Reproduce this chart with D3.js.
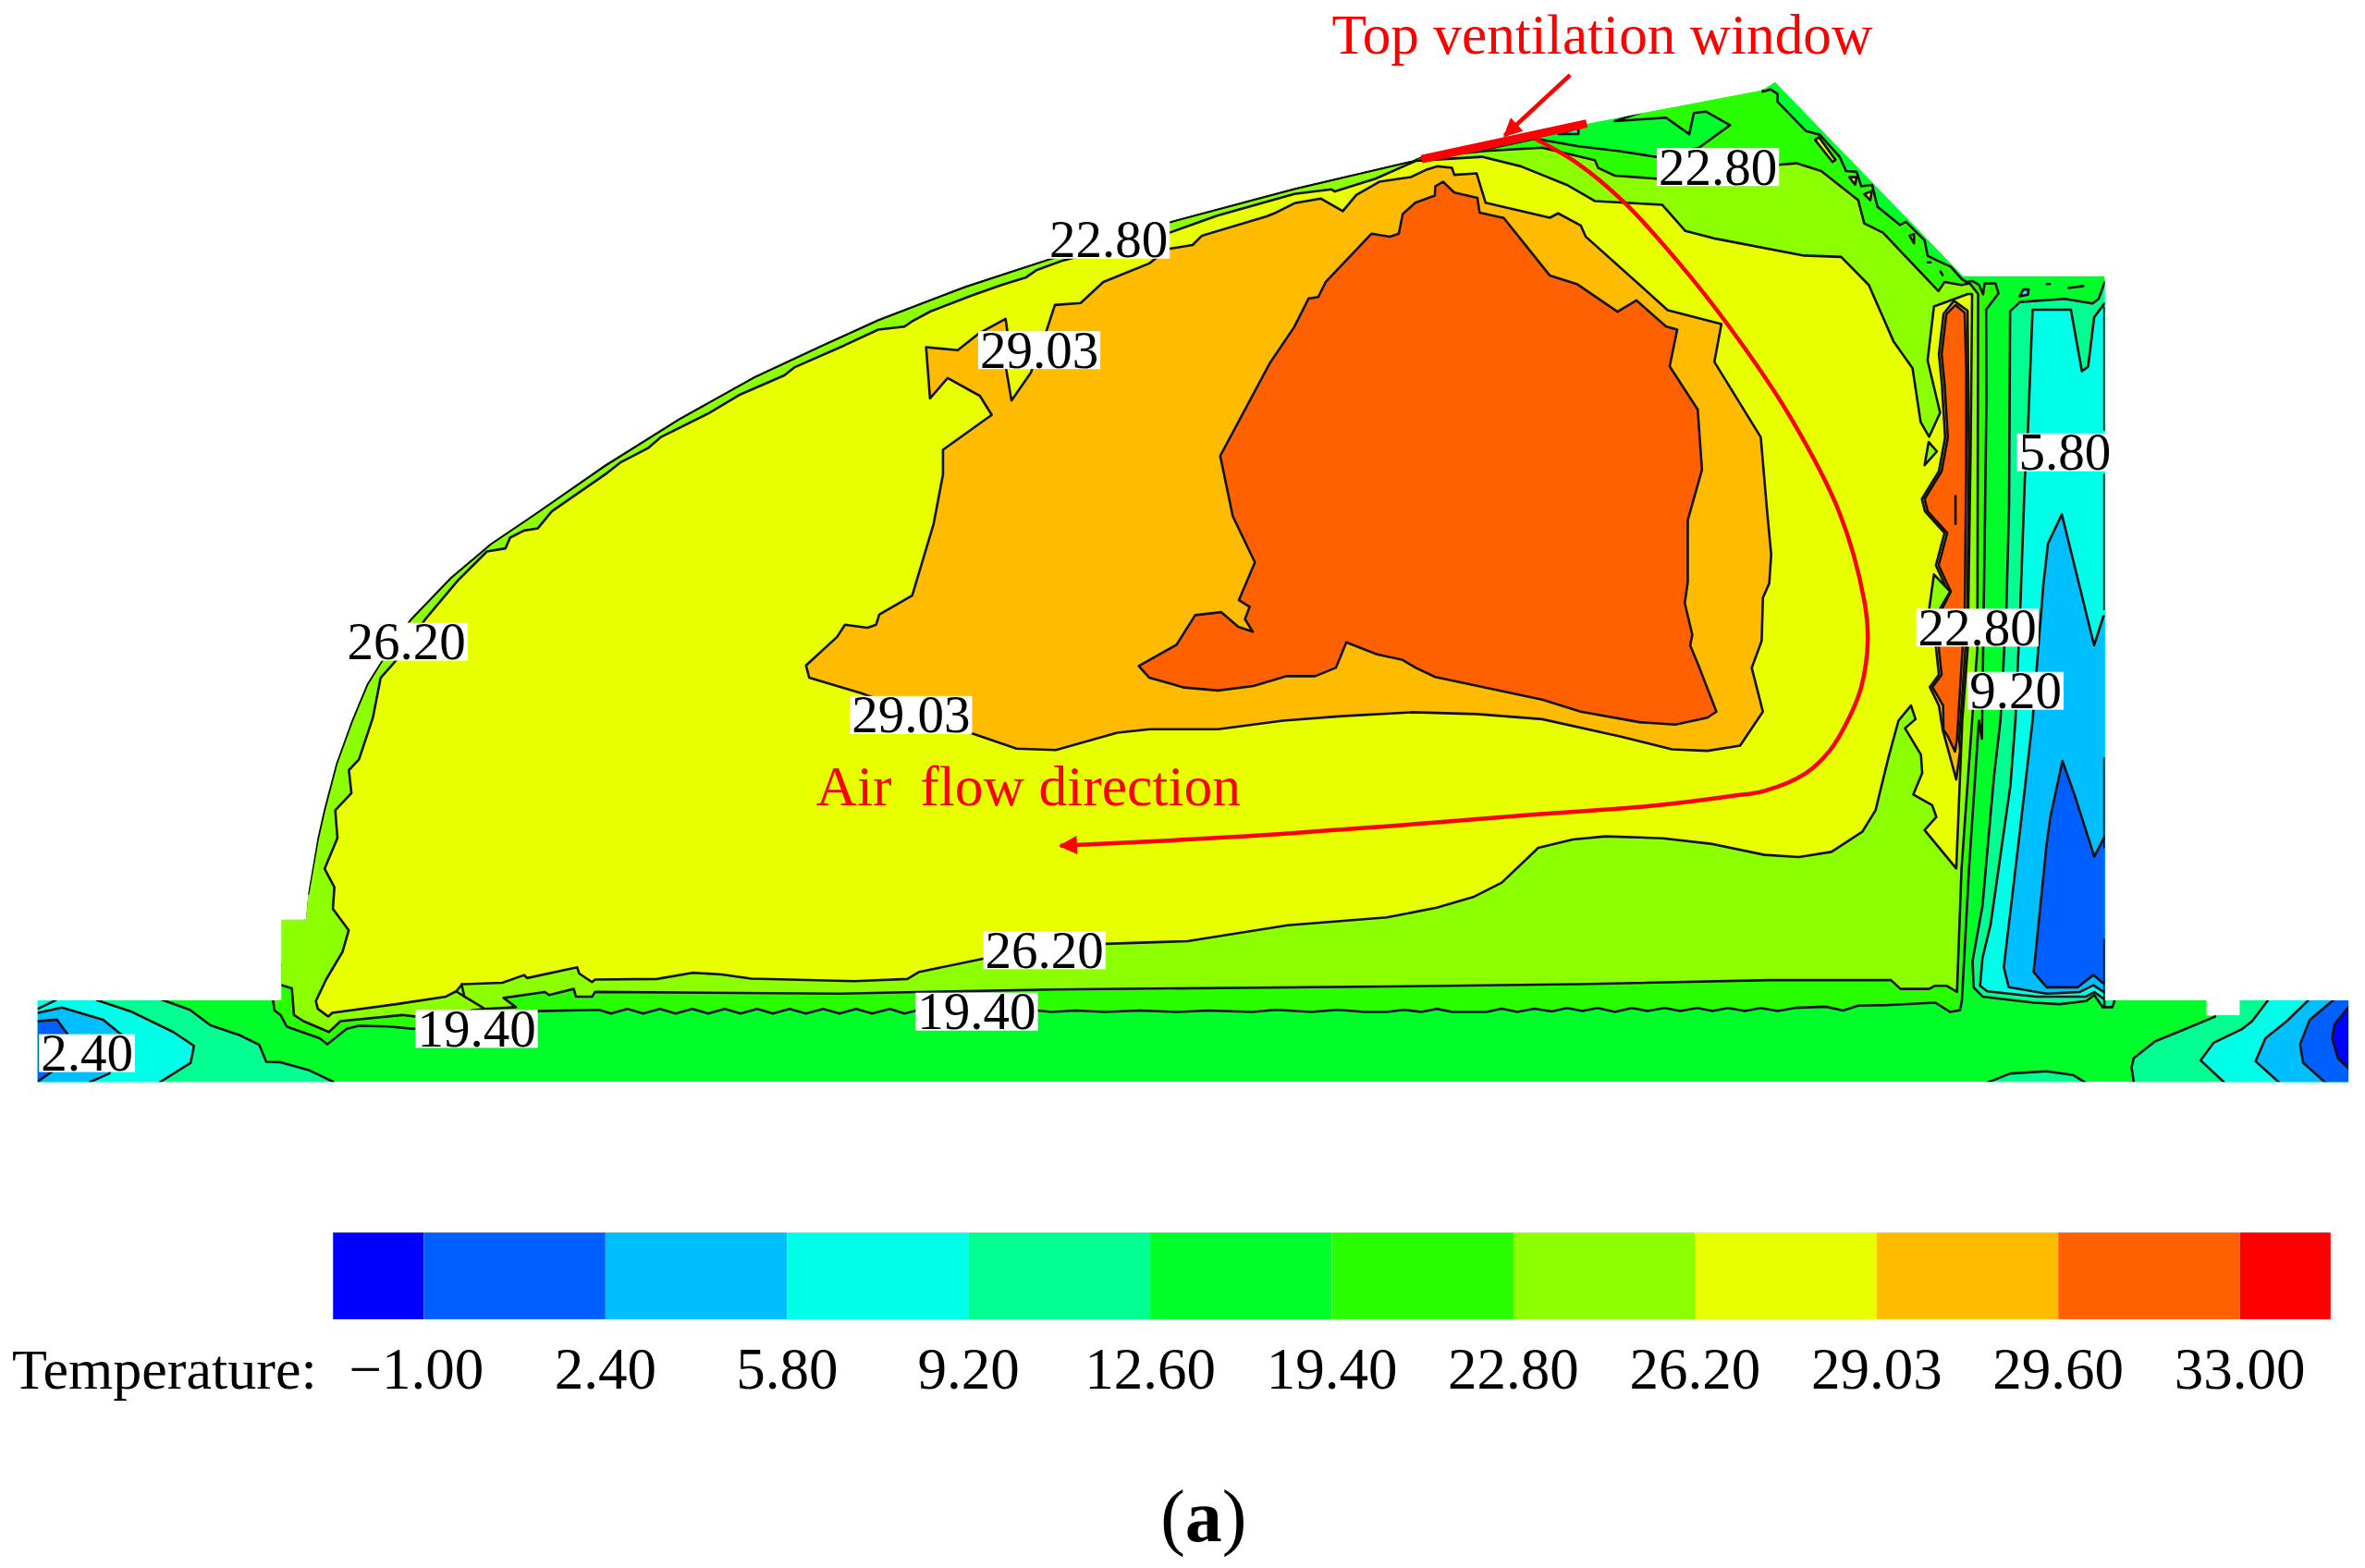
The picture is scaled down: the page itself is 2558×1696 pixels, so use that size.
<!DOCTYPE html>
<html><head><meta charset="utf-8">
<script src="https://cdn.jsdelivr.net/npm/d3@7"></script>
<style>html,body{margin:0;background:#fff}svg{display:block}text{font-family:"Liberation Serif","Times New Roman",serif}</style>
</head><body><svg id="c" width="2558" height="1696"></svg>
<script>
// Legend
const legendLabels=["\u22121.00","2.40","5.80","9.20","12.60","19.40","22.80","26.20","29.03","29.60","33.00"];
const bandColors=["#0000ff","#0060ff","#00bfff","#00ffe8","#00ff90","#00ff2a","#2aff00","#8cff00","#e8ff00","#ffbb00","#ff6000","#ff0000"];
// Outline of the section, in chart units
const domainOutline=[[25,663.5],[186.6,663.5],[186.6,610],[203,610],[204.3,592.6],[210.5,555.8],[214.6,537.4],[222.7,506.7],[233,478.1],[243.2,453.6],[253.4,437.3],[271.8,410.7],[298.3,383.1],[324.9,360.6],[353.5,341.2],[400.5,308.5],[450,277.5],[500,249.5],[545,228.5],[582.3,211.5],[640,189.5],[694.7,171.7],[774.4,147.1],[858.2,124.6],[936.8,106.2],[942,104],[1052,82],[1168,60],[1176.9,54.2],[1301.5,183],[1395.5,183],[1395.5,663.5],[1463,663.5],[1463,673.5],[1485,673.5],[1485,663.5],[1557,663.5],[1557,717.6],[25,717.6]];
// Contour bands
const band1940=[[181,663.4],[181,640],[195,640],[204,600],[215,560],[240,475],[290,400],[350,350],[402,318],[500,262],[582,225],[695,182],[775,157],[858,135],[938,108],[985,99],[1018,92],[1046.5,97],[1072.7,100.1],[1099,104.2],[1126.4,98],[1147,83],[1131,74],[1123,75],[1120,89],[1104.6,78],[1070.6,80.3],[1096,71.9],[1096,60],[1168,50],[1168.7,60.9],[1173.8,59.3],[1178.5,62.3],[1178.5,67.5],[1197.3,86.9],[1206.5,89.3],[1219.8,104.2],[1223.9,113.4],[1231,114],[1234,123.6],[1241.2,122.6],[1244.7,137],[1259.6,149.2],[1263.7,147.1],[1276,159.4],[1278,169.6],[1284.1,172.7],[1293.3,176.8],[1300.5,185],[1303.5,187],[1307.6,186.4],[1312.1,189],[1314.8,195.2],[1315.8,188],[1323,188],[1325,194.5],[1316.8,205.4],[1317,265.6],[1316,347],[1314,490],[1312,478],[1305.6,574],[1300.7,664],[1299.5,670],[1293,671.2],[1283,665],[1249.9,666.7],[1232,667],[1222,670.2],[1210.5,667.7],[1190,668.5],[1178.7,670.6],[1167.3,668.5],[1157,670.6],[1145.7,668.5],[1135.5,670.6],[1125.3,668.5],[1114,670.6],[1103.7,668.5],[1092.3,670.6],[1082,668.5],[1070.7,671.2],[1059.3,668.5],[1049,670.6],[1039,668.5],[1028.8,670.8],[1017.3,669],[1006,671.2],[995.7,669],[985.6,671.2],[962.7,671.2],[952.5,669.1],[942.4,671.2],[931,669.8],[919.5,671.2],[904.6,671.2],[887,669.8],[869.4,671.2],[846,669.8],[830.4,671.2],[801,670.2],[781.5,671.2],[756,670.2],[732.6,671.2],[713,670.2],[697.4,671.2],[687.6,670.2],[607.5,670.2],[599.7,672.2],[590,669.1],[578.2,672.2],[567.6,669.1],[556.7,672.2],[545.7,669.1],[534.4,672.2],[523.5,669.1],[512.5,672.2],[502,669.1],[491,672.2],[480.5,669.1],[469.5,672.2],[459,669.1],[448,672.2],[437.5,669.1],[426.5,672.2],[416,669.1],[405,672.2],[397.2,669.8],[357.3,670.6],[275,682.4],[257.2,680.8],[238,680.4],[229.9,682.4],[217,692.6],[212,688.6],[190.2,681],[186,673.2],[182,670.2]];
const band2280=[[186,653.2],[175,653],[175,600],[204.3,592.6],[210.8,555.8],[215,537.4],[223,506.7],[233.4,478.1],[243.6,453.6],[253.8,437.3],[272.2,411],[298.7,383.4],[325.3,360.9],[353.9,341.5],[401,309],[450,278.2],[500,250.2],[545,229.2],[582.6,212.2],[640,190.2],[694.9,172.2],[774.6,147.6],[858.4,125.2],[937,106.8],[940.5,104.5],[985.2,100.1],[1022.4,98],[1057.4,106.3],[1059.6,111.4],[1070.6,116.5],[1098,118.5],[1179,109.3],[1191,108.3],[1207.5,113.4],[1232,132.8],[1236,148.2],[1248.4,154.3],[1285.2,193.1],[1289.2,187],[1300.5,189],[1306,188],[1311.5,195],[1311,430],[1307.5,478],[1300.5,576],[1297.5,657.9],[1290.5,653.8],[1283,653.8],[1279,655.9],[1260,655.9],[1253.7,650.1],[1173.6,650.1],[1046.6,652.8],[919.5,654.3],[697.4,656.3],[556.7,659],[394.5,657.9],[392.7,661],[381.8,661],[380.4,655.9],[364,660],[361.3,658],[333.9,661.9],[342,668],[321.6,669.2],[276,674.3],[266.8,673.2],[225.8,677.3],[218.1,684.5],[201.2,677.3],[194.9,673.2],[193.5,655.5]];
const band2620=[[217.6,674.2],[210.7,669.1],[209.4,664],[216.2,649.7],[227.1,631.3],[231.2,617],[220.7,602.8],[221.7,588.5],[215.2,576.2],[223.7,555.8],[222.3,537.4],[233,526],[231.3,510.8],[238,503.7],[247.2,476.1],[252.4,449.5],[261.5,439.3],[282,410.7],[303.4,385.2],[322.8,365.8],[335.1,363.7],[338.2,356.6],[347.4,351.9],[356.6,350.4],[365.8,339.2],[402.5,313.7],[411.7,306.5],[430,297],[438,290],[470,274],[490,262],[520,249],[527,243.5],[560,229],[582.3,218.6],[599.7,216.6],[604.9,213],[617,206.5],[643.6,196.2],[664,189],[680.4,183.9],[687.5,179],[704.9,172.7],[775.4,154.3],[807,143],[858.2,128.6],[882.8,125.6],[885,127],[912,118.5],[939,106.6],[982.5,104],[1008.3,110.3],[1038.8,122.6],[1057.6,133.4],[1102,135.8],[1117.4,153.2],[1137.4,158.3],[1196,169.5],[1220.7,170.4],[1239,189],[1255.6,226.8],[1268,244.2],[1273.4,280],[1279,289.7],[1286.3,273.8],[1278,239],[1282.2,203.3],[1304.7,195],[1307.5,195],[1306.5,300],[1304.6,430],[1301,478],[1297,576],[1276,550.6],[1283.8,541.8],[1281,534],[1268.5,527],[1274.4,512.8],[1273.6,500.6],[1263,483],[1270,477],[1267,468],[1258.7,478],[1252,502.6],[1243.5,537.4],[1234.7,551.7],[1214.3,565],[1192.7,568.4],[1169.8,567],[1135.5,559.8],[1102.5,556],[1064.4,554.7],[1042.8,556.8],[1019.9,562.3],[995.7,585.4],[976.7,595],[952.5,602],[919.5,608.5],[853.8,613.7],[787.3,624.2],[732.6,626],[652.5,635.8],[609.5,644.6],[601.6,649.3],[566.5,650.8],[498,649.1],[478.5,646.3],[459,645.2],[435.5,649.3],[394.5,649.7],[392.5,651.4],[384,645.7],[382.7,641.6],[349.5,648.7],[347.5,646.7],[333,651.8],[306.5,652.8],[302.4,657.5],[295.6,661],[262.7,666],[220.3,671.8]];
const band2903=[[858.2,134.8],[875.8,131.7],[890.3,140],[899.2,129.3],[914.5,120.5],[935.6,117.4],[946.2,112.3],[953.2,110.3],[962.6,111.3],[964.2,116],[979,115],[984.9,134.4],[1027.6,144.4],[1033,141.5],[1048,149.5],[1051.3,156.9],[1105.7,205.7],[1141.3,215],[1136.6,240],[1167.4,290],[1171.4,337],[1174.3,367.8],[1173,387],[1168.8,396.4],[1168,425],[1161.4,443],[1168.8,472],[1153.7,494.5],[1132,498],[1108.5,497],[1074,488.4],[1022.5,477],[979.5,473.6],[936.5,472.4],[889.2,475],[850.5,478],[807.5,483.7],[762.3,483.7],[740.8,486],[700,497.5],[674,496.5],[644,486.3],[571,459.8],[536.5,449.5],[534.4,441.4],[555,422.4],[560.2,414.4],[575.2,416.4],[580.8,414.4],[583,407.6],[604.8,395],[619,347.4],[625.2,314.7],[625.2,298.3],[657.5,275.2],[649.7,262.6],[628.3,250.7],[616.6,264.2],[614,230.3],[635,232.3],[648.7,221.3],[666.7,211.5],[668,220.7],[667,244.2],[670.6,265.6],[683.4,247.3],[693.7,219.7],[699.4,202.3],[716.5,201],[731.5,187],[762,174.7],[767.2,170.6],[775.4,165],[790.7,162.5],[796.9,156.3],[839.8,143.5],[846,141]];
const band2960=[[858,217],[867.6,198],[874,197],[879,187],[909.3,155],[921.5,157],[927.4,155],[930,142],[938.4,134.4],[951.3,129.7],[951.6,123.6],[956.7,120.5],[964.2,127.7],[979.5,131.2],[981,141],[997,144.6],[1027.6,182.8],[1045.9,188.6],[1072.4,206.7],[1085,199.2],[1104.5,216.5],[1112,218.6],[1107,243],[1125.6,271.7],[1128.4,311.6],[1119,345],[1119,386],[1117,400],[1122,421],[1120.6,428],[1126,441],[1131,454],[1138,472],[1132,476],[1110.7,480.6],[1087,479],[1048,472],[1022.5,464],[951.6,449],[938.7,443],[930,437.7],[913,434],[892.6,426],[885.8,442.8],[872,448.5],[852.6,448.5],[831,455],[807.5,458],[785,456],[762,449.5],[755,441.8],[780,427.7],[792.4,408],[809.6,406],[821,415.8],[830.6,419],[825.4,410.7],[828.5,402.5],[821.4,398],[832,373],[817.3,342.3],[809,302.4],[841.8,241]];
const stripOrange=[[1295.5,199.5],[1304.5,206],[1305.4,300],[1304.4,409],[1302.4,440],[1299,490],[1299.5,498],[1297,517],[1288,484],[1285.5,468],[1279.5,455.7],[1285.5,447.5],[1283.5,429],[1284,405],[1291.5,392.3],[1283.5,375],[1289.2,353.5],[1276.3,339.2],[1274.2,331],[1285.5,312.6],[1289.6,290.2],[1287.5,255.4],[1285.5,235],[1288.6,208]];
const stripHot=[[1296.5,202.3],[1302.6,207.4],[1303.6,245.2],[1303.6,306.5],[1302.6,408.7],[1300.6,439.3],[1297.5,490.4],[1296.2,498.5],[1291.4,488.3],[1288.5,484],[1288.3,467.9],[1281.2,455.7],[1287.3,447.5],[1285.3,429],[1285.5,408],[1293.4,392.3],[1285.3,375],[1291,353.5],[1278.1,339.2],[1276,331],[1287.3,312.6],[1291.4,290.2],[1289.3,255.4],[1287.3,235],[1290.4,208.4]];
const stripColdGreen=[[1332.7,206.4],[1339.3,200.3],[1369,198.2],[1387.3,201.3],[1391.4,198.2],[1395.5,187],[1402,187],[1402,663.6],[1400.5,668],[1394,668],[1388.5,660],[1383,664],[1365.6,666],[1348.2,665],[1314.4,661],[1308.5,654.8],[1307.8,637.5],[1314.4,600.7],[1322,515],[1326.3,478],[1330.2,404.6],[1332,336]];
const stripCyan=[[1347.6,205.4],[1373,205.4],[1380.3,246.2],[1384.4,243.2],[1388.4,210.5],[1395.2,201.3],[1402,201],[1402,663],[1394,662],[1388.5,658],[1383,661],[1350.3,661],[1317.6,657.5],[1312.8,653.8],[1314.4,635.4],[1319.8,613],[1332.9,521],[1336.2,478],[1339.4,404.6],[1342.5,316.7],[1344.5,286]];
const stripSky=[[1367,341.2],[1357.8,360.6],[1354.7,388.2],[1347.6,478],[1339.4,549.6],[1328.5,641.6],[1331.8,654.8],[1356.9,659],[1378.7,658],[1387.9,653.4],[1395,658],[1402,658],[1402,408],[1394.6,408.7],[1388.4,428]];
const stripBlue=[[1367.4,504.7],[1359.5,541.4],[1356.9,559.8],[1349.3,635.4],[1348.2,644.6],[1356.9,654.8],[1377.6,654.8],[1387.9,646.7],[1394,651.8],[1402,651],[1402,550],[1395,555.7],[1388.5,568],[1375.4,527.1]];
const rightGreen=[[1468,650],[1468.6,674.3],[1444,684.5],[1428.9,690.6],[1414.7,701.8],[1413.2,708],[1415.8,725],[1570,725],[1570,650]];
const rightCyan=[[1503.5,655],[1503.5,663.6],[1493.2,677.3],[1486.7,682.4],[1467.7,691.6],[1459,703.3],[1474.3,717.6],[1480,725],[1570,725],[1570,655]];
const rightSky=[[1530.3,655],[1530.3,663.6],[1516.1,677.3],[1502,688.6],[1495.4,703.9],[1510.7,717.6],[1516,725],[1570,725],[1570,655]];
const rightBlue=[[1546.7,655],[1546.7,663.6],[1531.4,676.3],[1524.9,692.7],[1527,704.9],[1541.2,717.6],[1547,725],[1570,725],[1570,655]];
const rightDeep=[[1565,660],[1556.9,668.1],[1547.8,679.4],[1546.2,688.6],[1550,701.8],[1557,708.6],[1565,715]];
const floorBump=[[1317.6,718],[1332.9,712],[1356.9,710.6],[1374.3,713],[1382.6,718],[1382.6,725],[1317.6,725]];
const leftGreen=[[10,655],[107.3,655],[107.3,663],[125.9,669.8],[139.6,680],[158.7,686.5],[171.9,693],[176.5,704.3],[186,704.5],[205.3,710],[221.1,717.6],[221,725],[10,725]];
const leftCyan=[[10,655],[64.3,655],[64.3,663.4],[87.6,671.2],[114.9,684.5],[128.6,693.7],[126.4,704.9],[106.2,717.6],[104,725],[10,725]];
const leftSky=[[10,672],[25.2,671.8],[41,668.2],[68.4,676.3],[82.1,687.5],[72.5,712],[59.7,717.6],[58,725],[10,725]];
const leftBlue=[[10,677],[25.2,677.3],[37.8,676.3],[45.2,686.5],[40,700],[34.2,711],[25.2,717.2],[10,725]];
const islandLime=[[1279.1,403.6],[1282.2,381],[1293,392.3],[1286.3,403.6],[1284,420]];
const islandLime2=[[1278.7,293.2],[1284.2,299.4],[1276,308.5]];
const speck1=[[1203.4,92.8],[1206,91],[1216.9,106],[1215,107.5]];
const speck2=[[1226,117.5],[1231,117.5],[1230,122.5]];
const speck3=[[1236,128.8],[1241,126.7],[1240,132.8]];
const speck4=[[1266,156.3],[1269,155.3],[1269,161.4]];
const speck5=[[1339,196.5],[1341.5,192],[1345,192],[1344.5,195.5]];
const speck6=[[1033.3,88.9],[1046.5,84.8],[1046.5,88.9]];
// Open contour pieces
const pinchLine=[[302.4,657.5],[307.9,661],[321.6,669.2]];
const pinchLine2=[[306,652.8],[307.9,661]];
const cornerLine=[[25.2,669.1],[36.9,663.4]];
const hotStroke=[[1296.5,329],[1296.5,347.5]];
const dot1=[[1278,174],[1280,174]];
const dot2=[[1286.5,180],[1288,182.5]];
const dot3=[[1357,188.4],[1359,188.4]];
const dash1=[[1371.4,191],[1381.2,189.7]];
const edge1=[[1395.2,204],[1395.2,285]];
const edge2=[[1395.2,315],[1395.2,404]];
const edge3=[[1395.2,503],[1395.2,562]];
const edge4=[[1395.2,623],[1395.2,668]];
// Contour labels: text, centre
const labelTexts=["22.80","22.80","29.03","29.03","26.20","26.20","19.40","19.40","2.40","5.80","22.80","9.20"];
const labelX=[1139,735,689,604,269.5,692.5,316,647.6,57.7,1369,1311,1336.4];
const labelY=[110.8,159,232.2,474.2,425.6,630.3,682.4,671,698.5,300,416.3,458.2];
// Air flow path and window
const windowLine=[[942.5,105.5],[1052,82]];
const windowArrow=[[1041,49.7],[997.6,90]];
const airFlow=[[1017.7,92],[1045.8,108.3],[1076.4,133.8],[1112,173],[1146,216],[1186.6,276],[1219.5,340],[1236,398.5],[1238.3,425],[1234,455.7],[1226,476],[1213,498],[1197,513],[1170,524.5],[1148,528],[1097,534.3],[1021,540],[919.5,548],[820,555],[703,561]];

const W=2558,H=1696;
const x=d3.scaleLinear([0,1568],[0,W]), y=d3.scaleLinear([0,1040],[0,H]);
const svg=d3.select("#c");
const closed=d3.line(d=>x(d[0]),d=>y(d[1])).curve(d3.curveLinearClosed);
const open=d3.line(d=>x(d[0]),d=>y(d[1]));
const C=bandColors;
svg.append("defs").append("clipPath").attr("id","dom").append("path").attr("d",closed(domainOutline));
const defs=svg.select("defs");
const mk=(id,col)=>defs.append("marker").attr("id",id).attr("viewBox","0 0 10 10").attr("refX",9).attr("refY",5)
 .attr("markerUnits","userSpaceOnUse").attr("markerWidth",26).attr("markerHeight",20).attr("orient","auto")
 .append("path").attr("d","M0,0L10,5L0,10Z").attr("fill",col);
mk("ah","#ff0000");
const g=svg.append("g").attr("clip-path","url(#dom)");
g.append("path").attr("d",closed(domainOutline)).attr("fill",C[5]);
const layers=[[leftGreen,4],[leftCyan,3],[leftSky,2],[leftBlue,1],[rightGreen,4],[rightCyan,3],[rightSky,2],[rightBlue,1],[rightDeep,0],[floorBump,4],
 [stripColdGreen,4],[stripCyan,3],[stripSky,2],[stripBlue,1],
 [band1940,6],[band2280,7],[band2620,8],[band2903,9],[band2960,10],[stripOrange,9],[stripHot,10],[islandLime,7],[islandLime2,7],
 [speck1,8],[speck2,8],[speck3,8],[speck4,8],[speck5,3],[speck6,4]];
g.selectAll("path.band").data(layers).join("path").attr("class","band")
 .attr("d",d=>closed(d[0])).attr("fill",d=>C[d[1]]).attr("stroke","#111").attr("stroke-width",2.6).attr("stroke-linejoin","round");
g.selectAll("path.piece").data([pinchLine,pinchLine2,cornerLine,hotStroke,dot1,dot2,dot3,dash1,edge1,edge2,edge3,edge4]).join("path").attr("class","piece")
 .attr("d",open).attr("fill","none").attr("stroke","#111").attr("stroke-width",2.6).attr("stroke-linecap","round");

// Contour labels
const labelFont=57;
const lab=svg.append("g").selectAll("g").data(labelTexts).join("g");
lab.each(function(t,i){
 const s=d3.select(this);
 const txt=s.append("text").text(t).attr("x",x(labelX[i])).attr("y",y(labelY[i])+labelFont*0.335)
   .attr("text-anchor","middle").attr("font-size",labelFont).attr("fill","#000");
 const b=txt.node().getBBox();
 s.insert("rect","text").attr("x",b.x-2).attr("width",b.width+4).attr("y",y(labelY[i])-20.5).attr("height",41).attr("fill","#fff");
});

// Legend: each swatch runs between two neighbouring ticks, the two end swatches are half width
const iScale=d3.scaleLinear([0,10],[281,1485]);
const swatchStart=i=>i===0?iScale(-0.5):iScale(i-1);
const swatchEnd=i=>i===11?iScale(10.5):iScale(i);
const leg=svg.append("g");
leg.selectAll("rect").data(bandColors).join("rect")
 .attr("x",(d,i)=>x(swatchStart(i)))
 .attr("width",(d,i)=>x(swatchEnd(i))-x(swatchStart(i)))
 .attr("y",y(817.5)).attr("height",y(875)-y(817.5)).attr("fill",d=>d);
const tickScale=d3.scalePoint(legendLabels,[x(281),x(1485)]);
leg.selectAll("text.t").data(legendLabels).join("text").attr("class","t").text(d=>d)
 .attr("x",(d,i)=>tickScale(d)-(i===0?8:0)).attr("y",y(921)).attr("text-anchor","middle").attr("font-size",63).attr("fill","#000");
leg.append("text").text("Temperature:").attr("x",x(8)).attr("y",y(921)).attr("font-size",62).attr("fill","#000");

// Annotations
svg.append("path").attr("d",open(windowLine)).attr("stroke","#ff0000").attr("stroke-width",9).attr("fill","none");
svg.append("path").attr("d",d3.line(d=>x(d[0]),d=>y(d[1])).curve(d3.curveCatmullRom)(airFlow)).attr("stroke","#ff0000").attr("stroke-width",4.5).attr("fill","none").attr("marker-end","url(#ah)");
svg.append("path").attr("d",open(windowArrow)).attr("stroke","#ff0000").attr("stroke-width",4.5).attr("fill","none").attr("marker-end","url(#ah)");
svg.append("text").text("Top ventilation window").attr("x",x(883)).attr("y",y(35.8)).attr("font-size",61.3).attr("fill","#ff0000");
svg.append("text").text("Air\u00a0\u00a0flow direction").attr("x",x(541)).attr("y",y(534)).attr("font-size",61.5).attr("fill","#ff0000");
const cap=svg.append("text").attr("x",x(798)).attr("y",y(1022)).attr("text-anchor","middle").attr("font-size",80).attr("fill","#000");
cap.append("tspan").text("(");cap.append("tspan").text("a").attr("font-weight","bold");cap.append("tspan").text(")");
</script></body></html>
